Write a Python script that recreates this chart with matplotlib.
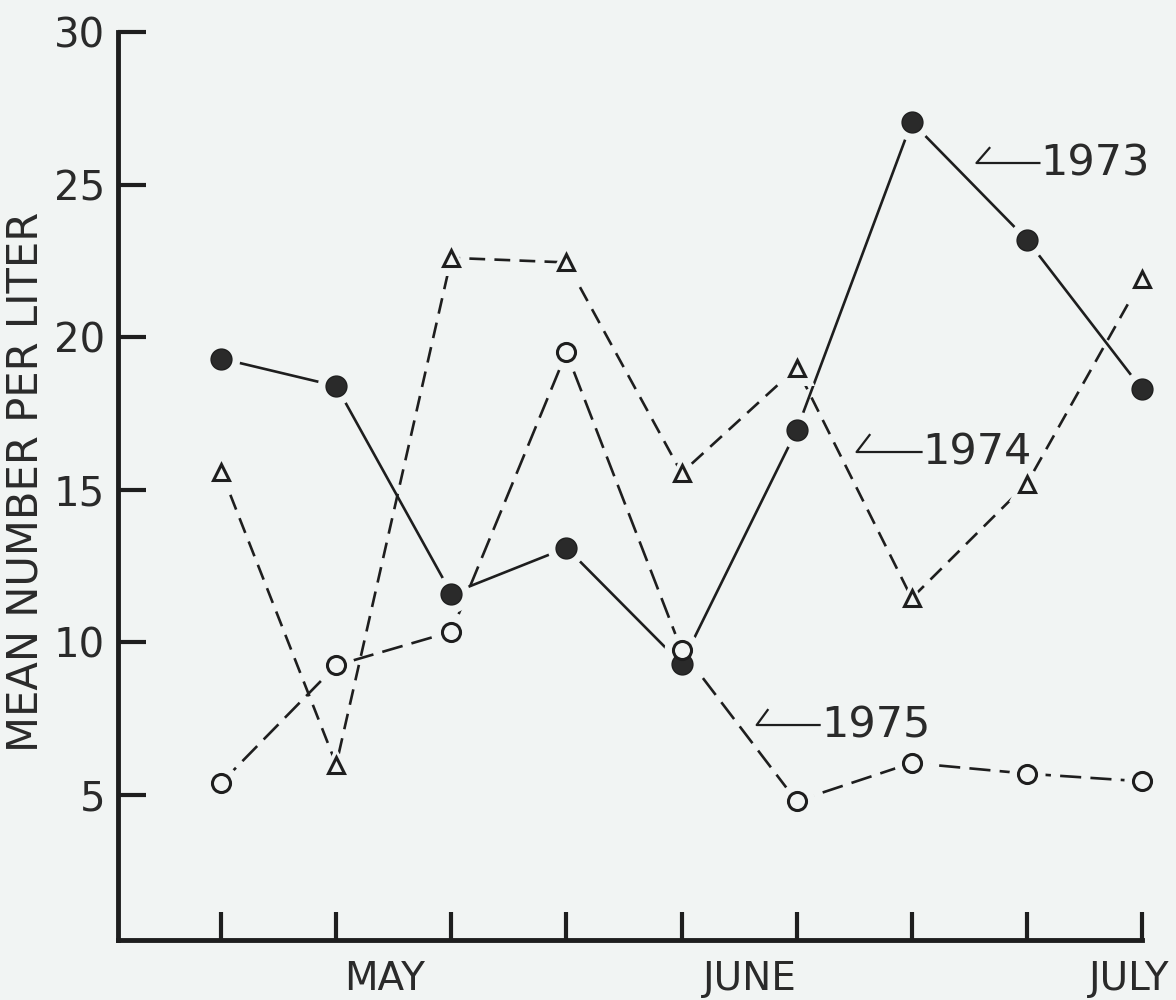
import matplotlib
matplotlib.use("Agg")
import matplotlib.pyplot as plt

# ---- data ----
x_idx = [0, 1, 2, 3, 4, 5, 6, 7, 8]
y1973 = [19.3, 18.4, 11.6, 13.1, 9.3, 16.95, 27.05, 23.2, 18.3]
y1974 = [15.6, 6.0, 22.6, 22.45, 15.55, 19.0, 11.45, 15.2, 21.9]
y1975 = [5.4, 9.25, 10.35, 19.5, 9.75, 4.8, 6.05, 5.7, 5.45]
y_ticks = [5, 10, 15, 20, 25, 30]
months = ["MAY", "JUNE", "JULY"]
month_pos = [1.42, 4.59, 7.89]
labels = ["1973", "1974", "1975"]

ink = "#1e1e1e"
txt = "#2a2a2a"
paper = "#f1f4f3"

fig = plt.figure(figsize=(11.76, 10), dpi=100, facecolor=paper)
ax = fig.add_axes([0.100, 0.060, 0.871, 0.908])
ax.set_facecolor(paper)

lw = 1.9
# lines
ax.plot(x_idx, y1973, color=ink, lw=lw, ls="-", zorder=2)
ax.plot(x_idx, y1974, color=ink, lw=lw, ls=(0, (6, 3.5)), zorder=2)
ax.plot(x_idx, y1975, color=ink, lw=lw, ls=(0, (8, 3.5)), zorder=2)

# halos (gap between lines and markers)
for ys, m, s in [(y1973, "o", 27), (y1974, "^", 26), (y1975, "o", 26)]:
    ax.plot(x_idx, ys, ls="none", marker=m, ms=s, markerfacecolor=paper,
            markeredgecolor=paper, markeredgewidth=0, zorder=3, clip_on=False)

# markers
ax.plot(x_idx, y1973, ls="none", marker="o", ms=15, mfc="#2a2a2a", mec=ink,
        mew=1.0, zorder=4, clip_on=False)
ax.plot(x_idx, y1974, ls="none", marker="^", ms=12, mfc=paper, mec=ink,
        mew=2.2, zorder=4, clip_on=False)
ax.plot(x_idx, y1975, ls="none", marker="o", ms=13, mfc=paper, mec=ink,
        mew=2.2, zorder=4, clip_on=False)

ax.set_xlim(-0.9, 8.0)
ax.set_ylim(0.25, 30)

for s in ["top", "right"]:
    ax.spines[s].set_visible(False)
for s in ["left", "bottom"]:
    ax.spines[s].set_linewidth(3.5)
    ax.spines[s].set_color(ink)

ax.set_xticks(x_idx)
ax.set_xticklabels([])
ax.set_yticks(y_ticks)
ax.set_yticklabels([str(v) for v in y_ticks])
ax.tick_params(axis="x", direction="in", length=20, width=3, color=ink)
ax.tick_params(axis="y", direction="in", length=20, width=3, color=ink,
               labelsize=29, labelcolor=txt, pad=9)

for name, xp in zip(months, month_pos):
    ax.text(xp, -0.022, name, transform=ax.get_xaxis_transform(),
            ha="center", va="top", fontsize=28, color=txt)

fig.text(0.022, 0.518, "MEAN NUMBER PER LITER", rotation=90, ha="center",
         va="center", fontsize=30, color=txt)

def px2x(px):
    return (px - 221) / 115.2

def py2y(py):
    return (947.6 - py) / 30.52

# leader annotations
def leader(x0, y0, x1, xh, yh, text):
    ax.plot([xh, x0, x1], [yh, y0, y0], color=ink, lw=1.6, zorder=5)
    ax.text(x1 + 0.01, y0, text, ha="left", va="center", fontsize=31,
            color=txt, zorder=5)

leader(px2x(977), py2y(163), px2x(1040), px2x(990), py2y(148), labels[0])
leader(px2x(857), py2y(452), px2x(922), px2x(870), py2y(435), labels[1])
leader(px2x(757), py2y(725), px2x(820), px2x(768), py2y(710), labels[2])

fig.savefig("out.png", dpi=100, facecolor=paper)
